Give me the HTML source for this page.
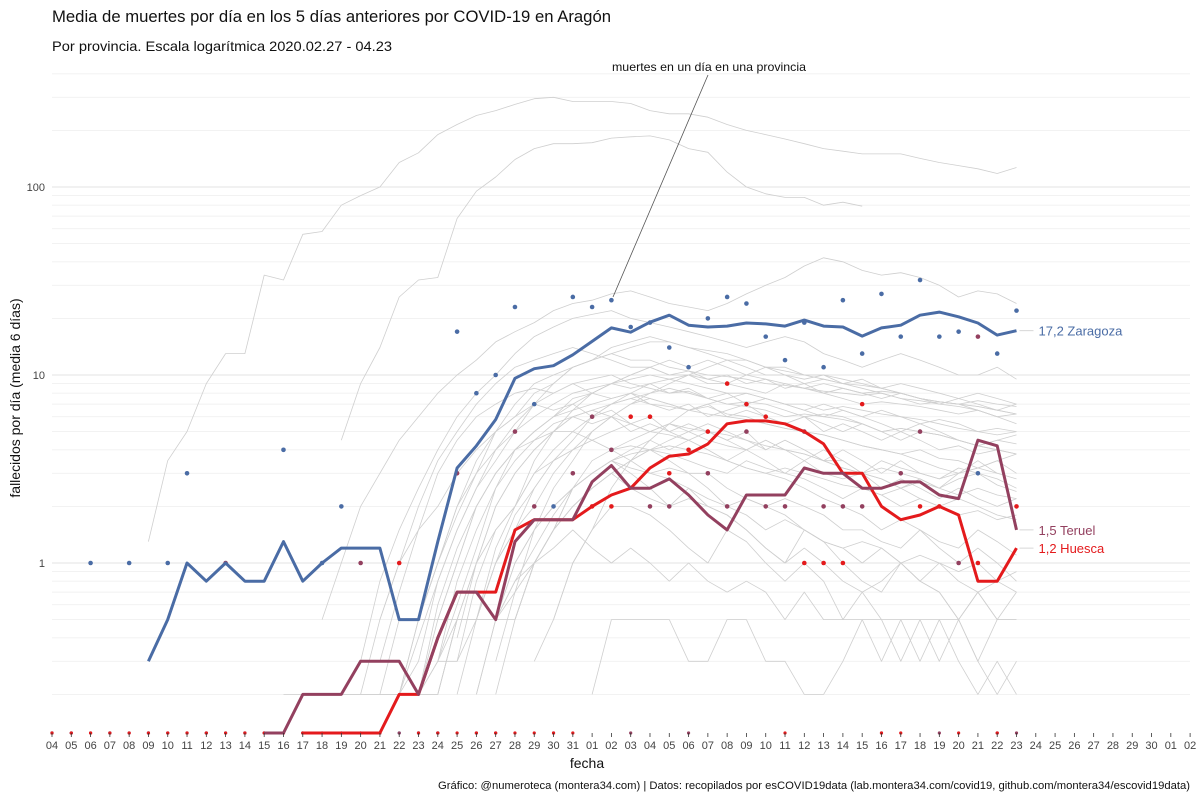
<!DOCTYPE html>
<html><head><meta charset="utf-8">
<style>
html,body{margin:0;padding:0;background:#fff;}
svg{display:block;font-family:"Liberation Sans Narrow","Liberation Sans",sans-serif;}
</style></head>
<body>
<svg id="chart" width="1200" height="800" viewBox="0 0 1200 800" xmlns="http://www.w3.org/2000/svg">
<rect width="1200" height="800" fill="#fff"/>
<text x="52" y="22" font-size="17" fill="#111" textLength="559" lengthAdjust="spacingAndGlyphs">Media de muertes por día en los 5 días anteriores por COVID-19 en Aragón</text>
<text x="52" y="51" font-size="14" fill="#111" textLength="340" lengthAdjust="spacingAndGlyphs">Por provincia. Escala logarítmica  2020.02.27 - 04.23</text>
<g id="grid"></g>
<g id="grey"></g>
<g id="main"></g>
<g id="axes"></g>
<text transform="translate(20,398) rotate(-90)" text-anchor="middle" font-size="14" fill="#111">fallecidos por día (media 6 días)</text>
<text x="587" y="768" text-anchor="middle" font-size="14" fill="#111">fecha</text>
<text x="1190" y="789" text-anchor="end" font-size="11" fill="#111" textLength="752" lengthAdjust="spacingAndGlyphs">Gráfico: @numeroteca (montera34.com) | Datos: recopilados por esCOVID19data (lab.montera34.com/covid19, github.com/montera34/escovid19data)</text>
<line x1="708" y1="75" x2="613" y2="297" stroke="#555" stroke-width="0.8"/>
<text x="709" y="71" text-anchor="middle" font-size="12" fill="#111" textLength="194" lengthAdjust="spacingAndGlyphs">muertes en un día en una provincia</text>
</svg>
<script>
const xLabels = ["04","05","06","07","08","09","10","11","12","13","14","15","16","17","18","19","20","21","22","23","24","25","26","27","28","29","30","31","01","02","03","04","05","06","07","08","09","10","11","12","13","14","15","16","17","18","19","20","21","22","23","24","25","26","27","28","29","30","01","02"];
const yTicks = [1, 10, 100];
const yTickLabels = ["1", "10", "100"];
const zaragozaStart = 5;
const zaragozaAvg = [0.3,0.5,1,0.8,1,0.8,0.8,1.3,0.8,1,1.2,1.2,1.2,0.5,0.5,1.3,3.2,4.2,5.8,9.6,10.8,11.2,12.8,15.1,17.8,16.9,19.1,20.8,18.4,18,18.2,18.9,18.7,18.2,19.6,18.2,18,16.1,17.8,18.4,20.8,21.6,20.4,18.9,16.3,17.2];
const huescaStart = 13;
const huescaAvg = [0,0,0,0,0,0.2,0.2,0.4,0.7,0.7,0.7,1.5,1.7,1.7,1.7,2.0,2.3,2.5,3.2,3.7,3.8,4.3,5.5,5.7,5.7,5.5,5.0,4.3,3.0,3.0,2.0,1.7,1.8,2.0,1.8,0.8,0.8,1.2];
const teruelStart = 11;
const teruelAvg = [0,0,0.2,0.2,0.2,0.3,0.3,0.3,0.2,0.4,0.7,0.7,0.5,1.3,1.7,1.7,1.7,2.7,3.3,2.5,2.5,2.8,2.3,1.8,1.5,2.3,2.3,2.3,3.2,3.0,3.0,2.5,2.5,2.7,2.7,2.3,2.2,4.5,4.2,1.5];
const zaragozaDaily = [0,0,1,0,1,0,1,3,0,0,0,0,4,0,1,2,0,0,0,0,0,17,8,10,23,7,2,26,23,25,18,19,14,11,20,26,24,16,12,19,11,25,13,27,16,32,16,17,3,13,22];
const huescaDaily = [0,0,0,0,0,0,0,0,0,0,0,0,0,0,0,0,0,0,1,0,0,0,0,0,0,0,0,0,2,2,6,6,3,4,5,9,7,6,0,1,1,1,7,0,0,2,2,0,1,0,2];
const teruelDaily = [0,0,0,0,0,0,0,0,0,1,0,0,0,0,0,0,1,0,0,0,0,3,0,0,5,2,0,3,6,4,0,2,2,0,3,2,5,2,2,5,2,2,2,0,3,5,0,1,16,0,0];
const labelZaragoza = "17,2 Zaragoza", labelTeruel = "1,5 Teruel", labelHuesca = "1,2 Huesca";
const madridStart = 5;
const madrid = [1.3,3.5,5,9,13,13,34,32,56,58,80,90,100,135,152,190,215,240,255,275,295,300,285,285,285,278,255,245,245,235,215,200,190,180,170,160,155,150,150,150,142,135,130,125,118,127];
const barcelonaStart = 15;
const barcelona = [4.5,9,14,26,32,33,68,95,113,140,160,170,170,172,182,185,187,178,160,153,120,100,92,88,88,80,83,79];
const greyStarts = [14,16,17,18,18,19,19,20,20,21,21,22,22,23,16,18,20,24,12,14,17,22,26,28,15,19,23,25,17,18,20,21,22,19,24,23];
const greySeries = [
 [0.5,1,2,3,4.5,6,8,10,12,15,17,19,22,24,25,27,28,26,24,23,22,24,27,30,33,38,42,40,36,34,35,33,30,26,28,27,24],
 [0.3,0.8,1.5,2.5,4,6,8,10,13,16,18,20,21,22,20,19,18,17,16,15,14,15,16,15,13,12,11,12,13,12,11,10,10,11,9.5],
 [0.5,1,2,3.5,5,7,9,11,12,13,14,13,12,11,11,10,10,9,9,8.5,8,9,8.5,8,7.5,7,7.2,7,6.8,6.5,6.2,6.5,6],
 [0.2,0.5,1,2,3,5,7,9,10,11,12,13,12,12,11,10.5,10,9.8,9.5,9,8.8,8.5,8.2,8,7.8,8,7.5,7.3,7,6.8,6.5,6,5.5],
 [0.2,0.3,0.8,1.5,2.5,4,5,6,7,8,8.5,9,9.5,10,9.5,9,8.5,8,8,7.5,7,7,6.5,6.8,6.5,6.2,6,5.8,5.5,5.2,5,4.8,5],
 [0.5,1,1.8,3,4,5.5,7,8,9,9.5,10,9,8.5,8,8.2,7.5,7,6.8,6.5,6,6.2,6,5.8,5.5,5,5.2,5,4.8,4.5,4.2,4.5,4.3],
 [0.2,0.6,1.2,2,3,4,5,6,6.5,7,7.5,8,7.5,7,6.5,6.8,6.2,6,5.5,5.2,5,4.8,4.5,4.2,4,3.8,4,3.6,3.5,3.2,3.5,3.8],
 [0.3,0.8,1.5,2.5,3.5,4.5,5.5,6,6.5,6,5.5,5,5.5,5,4.5,4.2,4,4.5,4,3.8,3.5,3.2,3,3.2,3,2.8,2.5,2.8,3,2.6,2.4],
 [0.5,1,2,3,4,4.5,5,5,4.5,4,4.2,4,3.8,3.5,3.2,3,3.5,3.2,3,2.8,2.5,2.2,2.5,2.3,2,2.2,2,1.8,1.9,1.7,1.8],
 [0.2,0.5,1,1.5,2.5,3.5,4,4.5,5,5.5,5,4.8,4.5,4,3.5,3.2,3,2.8,2.5,2.2,2,1.8,1.5,1.7,1.5,1.3,1.2,1.5,1.3,1.1],
 [0.3,0.8,1.5,2,3,3.5,4,4.5,4,3.5,3,3.2,3,2.5,2,2.2,2,1.8,1.5,1.3,1.2,1,1.2,1,0.8,1,0.8,0.7,0.8,0.7],
 [0.5,1,1.8,2.5,3.5,4.5,6,7,8,9,9.5,10,9.5,9,10,9.5,9,8.5,9,8.5,8,8.2,8,7.5,7.2,7,7.3,7,6.8],
 [0.2,0.5,0.8,1.2,1.8,2.5,3,3.5,3.2,3,2.8,2.5,2.2,2,1.8,1.5,1.7,1.5,1.3,1.2,1.3,1.2,1,1.1,1,0.9,1,0.8,0.9],
 [0.5,1,1.5,2,2.5,3,3.5,3.8,4,4.2,4,3.8,3.5,3.2,3,3.2,3,2.8,2.6,2.5,2.3,2.5,2.2,2,2.2,2,1.8,1.7],
 [0.2,0.5,1,1.5,2,3,4,5,6,8,9,11,12,13,14,15,15,14,13,12,12,11,11,10,10,9.5,9,8.5,8,7.5,7.2,7,6.8,6.5,6.2],
 [0.2,0.4,0.8,1.5,2.5,3.5,5,7,9,11,12,14,15,16,15,14,13.5,13,12,11,10.5,10,9.5,9,8.8,8.5,8,7.5,7.2,7,6.8,6.5,6.2],
 [0.2,0.5,1,2,3,4,5,6,6.5,7,7.5,7,6.8,6.5,6.2,6,5.8,5.5,5.2,5,4.8,4.5,4.2,4,3.8,3.5,3.2,3,3.2,3],
 [0.5,1,1.5,2.5,3.5,4,4.5,5,5.5,5.2,5,4.8,4.5,4.2,4,3.8,3.5,3.2,3,2.8,2.5,2.7,2.5,2.3,2.5,2.3,2.2],
 [0.2,0.2,0.2,0.2,0.2,0.2,0.2,0.2,0.2,0.5,0.5,0.5,0.7,1,1.5,2,2.5,3,3.5,4,3.5,3,3,2.5,2.2,2,2.2,2,1.8,1.5,1.5,1.3,1.2,1.5,1.2,1,1.2,1,0.8],
 [0.2,0.2,0.2,0.2,0.5,0.5,0.5,0.5,0.5,0.5,0.8,1,1.2,1.5,1.2,1,1.2,1,0.8,1,0.8,0.7,0.8,0.7,0.5,0.7,0.5,0.5,0.7,0.5,0.5,0.3,0.5,0.3,0.2,0.3,0.2],
 [0.2,0.2,0.2,0.3,0.3,0.5,0.5,0.5,1,1.5,2,2.5,3,2.5,2.2,2,2.2,2,1.8,1.5,1.2,1,1.2,1,0.8,0.7,0.8,1,0.8,0.7,0.5,0.7,0.5,0.5],
 [0.2,0.5,1,1.5,2,2.5,3,3.5,3,2.5,2,2.5,2,1.8,1.5,1.2,1,1.5,1.3,1,0.8,0.7,1,0.8,0.7,0.5,0.7,0.5,0.5],
 [0.5,1,1.5,2,2,1.8,1.5,1.2,1,1.5,1.3,1,0.8,1,0.8,0.5,0.5,0.3,0.5,0.5,0.3,0.5,0.3,0.2,0.3],
 [0.2,0.5,0.5,0.5,0.5,0.3,0.3,0.5,0.5,0.3,0.3,0.2,0.2,0.3,0.5,0.5,0.3,0.5,0.5,0.5,0.3,0.5,0.7],
 [0.2,0.2,0.2,0.2,0.2,0.2,0.5,0.5,1,1.5,2,3,4,5,6,7,8,9,10,11,12,11,10,10,9,9.5,9,8.5,8,7.5,7,7.2,7,6.5,6,6.2],
 [0.2,0.3,0.5,1,1.5,2,3,4,5,6,7,7.5,8,8.5,8,7.5,7,7.2,7,6.5,6,6.2,6,5.5,5,5.2,5,4.8,4.5,4.2,4,3.8],
 [0.2,0.5,1,1.5,2,2.5,3,3.5,4,4.5,5,5.5,5,4.5,4,4.5,4,3.5,3.5,3,2.8,2.5,2.8,2.5,3,3.5,3,2.8],
 [0.3,0.5,1,1.5,2.5,3.5,4.5,5.5,6.5,7,7.5,8,7.5,7,6.5,6,6.5,6,5.5,5,5.5,5,4.5,4.2,4,3.8],
 [0.3,0.7,1.5,3,4.5,6,7,8,8.5,8,9,8,7.5,8,7,6.5,7,6,6.5,7,6,5.5,6,5,5.5,5,4.5,5,4.5,4,4.2,3.8,4],
 [0.2,0.5,1,2,3.5,5,6,7,6.5,7,6,6.5,5.5,6,5,5.5,5,4.5,5,4,4.5,4,3.5,4,3.5,3,3.5,3,2.8,3,3.2,3.5,3],
 [0.3,0.6,1.2,2.5,4,5,6,7.5,8,9,8.5,9,8,8.5,7.5,8,7,7.5,7,6.5,7,6.5,6,6.5,6,5.5,5.8,5.5,5,5.2,5],
 [0.4,1,2,3,4,5,6,5.5,6,5,5.5,5,4.5,5,4.5,4,4.5,4,3.5,4,3.5,3,3.5,3.2,3,2.8,3.2,3,2.8,2.5],
 [0.5,1.2,2,3.5,5,6.5,8,9,10,11,10,10.5,9.5,10,9,9.5,8.5,9,8,8.5,8,7.5,8,7.5,7,7.5,7,6.5,7],
 [0.2,0.5,1,2,3,4,5,6,7,8,9,10,11,12,11,12,11,10,11,10,9.5,10,9,9.5,8.5,9,8.5,8,7.5,8,7.5,7],
 [0.5,1,1.5,2.5,3,3.5,4,4.5,4,4.5,4,3.5,4,3.5,3,3.5,3,2.8,3,2.5,2.8,2.5,2.2,2.5,2.2,2,2.2],
 [0.3,0.7,1.5,2.5,3.5,5,6,7,7.5,7,6.5,7,6,6.5,6,5.5,6,5.5,5,5.5,5,4.5,5,4.8,4.5,4.2,4.5,4.8]
];
const NS = "http://www.w3.org/2000/svg";
const X0 = 52, DX = 19.29, Y1 = 563, DEC = 188, YB = 733;
function xs(i){ return X0 + i*DX; }
function ys(v){ if (v <= 0) return YB; const y = Y1 - DEC*Math.log10(v); return Math.min(y, YB); }
function mk(tag, attrs, parent){ const e = document.createElementNS(NS, tag); for (const k in attrs) e.setAttribute(k, attrs[k]); parent.appendChild(e); return e; }
const grid = document.getElementById('grid'), grey = document.getElementById('grey'), main = document.getElementById('main'), axes = document.getElementById('axes');
[0.1,1,10,100].forEach(function(base){
  for (let m = 1; m <= 9; m++) {
    const v = base*m; const y = ys(v);
    if (y >= YB || y < 60) continue;
    const ln = mk('line', {x1: X0, x2: 1190, y1: y, y2: y, stroke: m === 1 ? '#e3e3e3' : '#f0f0f0', 'stroke-width': m === 1 ? 1 : 0.9}, grid);
    
    
  }
});
yTicks.forEach(function(v, i){
  const t = mk('text', {x: 45, y: ys(v)+4, 'text-anchor': 'end', 'font-size': 11, fill: '#444'}, axes);
  t.textContent = yTickLabels[i];
  
  
});
xLabels.forEach(function(lab, i){
  const x = xs(i);
  const tk = mk('line', {x1: x, x2: x, y1: YB, y2: YB+4, stroke: '#333', 'stroke-width': 0.8}, axes);
  
  
  const t = mk('text', {x: x, y: YB+16, 'text-anchor': 'middle', 'font-size': 11, fill: '#444'}, axes);
  t.textContent = lab;
  
  
});
function pathFor(start, vals){ return vals.map(function(v, k){ return (k ? 'L' : 'M') + xs(start+k).toFixed(1) + ',' + ys(v).toFixed(1); }).join(''); }
function line(start, vals, color, w, parent, name){
  const p = mk('path', {d: pathFor(start, vals), fill: 'none', stroke: color, 'stroke-width': w, 'stroke-linejoin': 'round'}, parent);
  
  
}
line(madridStart, madrid, '#cfcfcf', 0.8, grey, 'province-line-madrid');
line(barcelonaStart, barcelona, '#cfcfcf', 0.8, grey, 'province-line-barcelona');
greySeries.forEach(function(s, i){ line(greyStarts[i], s, '#cfcfcf', 0.8, grey, 'province-line'); });
function dots(vals, color, name){
  vals.forEach(function(v, i){
    const c = mk('circle', {cx: xs(i), cy: ys(v), r: v > 0 ? 2.3 : 1.6, fill: color}, main);
    
    
  });
}
const BLUE = '#4a6ca5', RED = '#e41a1c', PURPLE = '#93405f';
dots(zaragozaDaily, BLUE, 'zaragoza-daily-dot');
dots(teruelDaily, PURPLE, 'teruel-daily-dot');
dots(huescaDaily, RED, 'huesca-daily-dot');
line(zaragozaStart, zaragozaAvg, BLUE, 3, main, 'zaragoza-line');
line(huescaStart, huescaAvg, RED, 3, main, 'huesca-line');
line(teruelStart, teruelAvg, PURPLE, 3, main, 'teruel-line');
function endLabel(start, vals, txt, color, dy, name){
  const last = vals[vals.length-1]; const x = xs(start+vals.length-1); const y = ys(last);
  const l = mk('line', {x1: x+3, x2: x+17, y1: y, y2: y, stroke: '#ccc', 'stroke-width': 0.8}, main);
  
  
  const t = mk('text', {x: x+22, y: y+5+dy, 'font-size': 13, fill: color}, main);
  t.textContent = txt;
  
  
}
endLabel(zaragozaStart, zaragozaAvg, labelZaragoza, BLUE, 0, 'zaragoza-label');
endLabel(teruelStart, teruelAvg, labelTeruel, PURPLE, 0, 'teruel-label');
endLabel(huescaStart, huescaAvg, labelHuesca, RED, 0, 'huesca-label');
</script>
</body></html>
